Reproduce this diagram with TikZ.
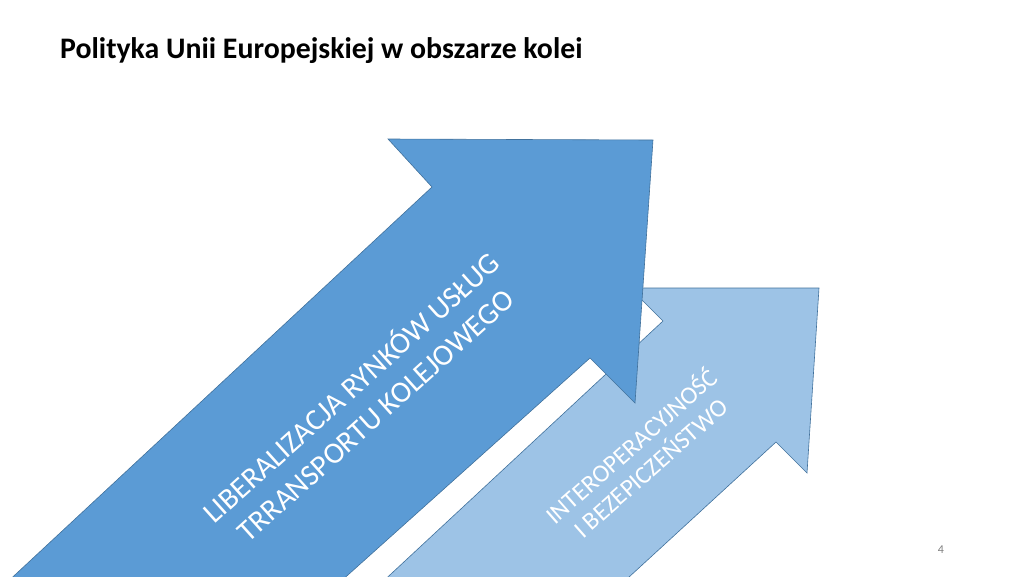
\documentclass[tikz,border=0pt]{standalone}
\usepackage{fontspec}
\setmainfont{Carlito}
\definecolor{darkarrow}{HTML}{5B9BD5}
\definecolor{lightarrow}{HTML}{9DC3E6}
\definecolor{arrowline}{HTML}{41719C}
\begin{document}
\begin{tikzpicture}[x=1pt,y=-1pt,
  arrowshape/.style={draw=arrowline,line width=0.6pt,line join=miter},
  arrowtext/.style={text=white,align=center,inner sep=0pt},
  titletext/.style={anchor=base west,inner sep=0pt,font=\bfseries\fontsize{29.8}{34}\selectfont}]
\useasboundingbox (0,0) rectangle (1024,576);
\begin{scope}
\clip (0,0) rectangle (1024,576);
% light arrow
\fill[lightarrow,arrowshape] (363,600) -- (663,321) -- (630,288) -- (819,288) -- (807,473) -- (776,442) -- (604,600) -- cycle;
% dark arrow
\fill[darkarrow,arrowshape] (-12,600) -- (432,187) -- (388,139) -- (653,140) -- (635,403) -- (590,358) -- (320,600) -- cycle;
\end{scope}
\node[titletext] (title) at (60,58) {Polityka Unii Europejskiej w obszarze kolei};
\node[arrowtext,rotate=42,font=\fontsize{30}{37}\selectfont] (big) at (362,400) {LIBERALIZACJA RYNKÓW USŁUG\\TRRANSPORTU KOLEJOWEGO};
\node[arrowtext,rotate=41.5,font=\fontsize{25}{29}\selectfont] (small) at (640,456) {INTEROPERACYJNOŚĆ\\I BEZEPICZEŃSTWO};
\node[text=gray,font=\fontsize{12}{14}\selectfont,inner sep=0pt] (page) at (941,550) {4};
\end{tikzpicture}
\end{document}
